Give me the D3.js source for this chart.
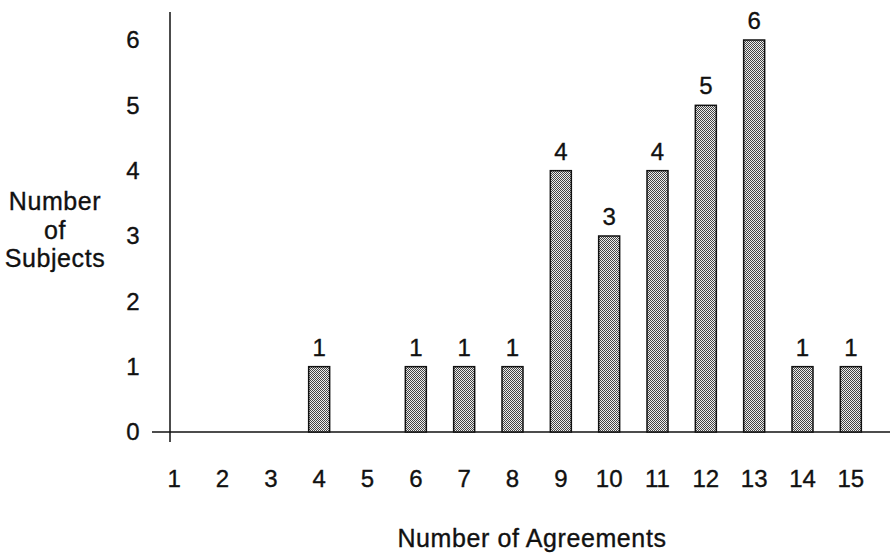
<!DOCTYPE html>
<html>
<head>
<meta charset="utf-8">
<script src="https://cdn.jsdelivr.net/npm/d3@7"></script>
<style>
  html, body { margin: 0; padding: 0; background: #fff; }
  svg { display: block; }
  text { font-family: "Liberation Sans", Arial, Helvetica, sans-serif; fill: #111; stroke: #111; stroke-width: 0.35px; }
</style>
</head>
<body>
<svg id="chart" width="890" height="555"></svg>
<script>
// ---- data ----
const categories = [1, 2, 3, 4, 5, 6, 7, 8, 9, 10, 11, 12, 13, 14, 15];
const subjects   = [0, 0, 0, 1, 0, 1, 1, 1, 4, 3, 4, 5, 6, 1, 1];
const yTicks     = [0, 1, 2, 3, 4, 5, 6];
const yTitle     = ["Number", "of", "Subjects"];
const xTitle     = "Number of Agreements";

const data = categories.map((c, i) => ({ cat: c, value: subjects[i] }));

const svg = d3.select("#chart");

// stipple pattern for bars
const defs = svg.append("defs");
const pat = defs.append("pattern")
  .attr("id", "stipple").attr("patternUnits", "userSpaceOnUse")
  .attr("width", 2).attr("height", 2);
pat.append("rect").attr("width", 2).attr("height", 2).attr("fill", "#eeeeee");
pat.append("rect").attr("x", 0).attr("y", 0).attr("width", 1).attr("height", 1).attr("fill", "#444");
pat.append("rect").attr("x", 1).attr("y", 1).attr("width", 1).attr("height", 1).attr("fill", "#444");

// scales
const x = d3.scalePoint().domain(categories).range([150, 875]).padding(0.5);
const y = d3.scaleLinear().domain([0, 6]).range([432, 40]);
const barW = 21;

// axes lines
svg.append("line")
  .attr("x1", 170).attr("x2", 170).attr("y1", 12).attr("y2", 442)
  .attr("stroke", "#111").attr("stroke-width", 1.5);
svg.append("line")
  .attr("x1", 152).attr("x2", 890).attr("y1", y(0)).attr("y2", y(0))
  .attr("stroke", "#111").attr("stroke-width", 1.5);

// y tick labels
svg.append("g").selectAll("text").data(yTicks).join("text")
  .attr("x", 133).attr("y", d => y(d)).attr("dy", "0.35em")
  .attr("text-anchor", "middle").attr("font-size", 24)
  .text(d => d);

// y title
svg.append("g").selectAll("text").data(yTitle).join("text")
  .attr("x", 55).attr("y", (d, i) => 210 + i * 28.5)
  .attr("text-anchor", "middle").attr("font-size", 25)
  .attr("letter-spacing", 0.6)
  .text(d => d);

// bars
svg.append("g").selectAll("rect").data(data.filter(d => d.value > 0)).join("rect")
  .attr("x", d => x(d.cat) - barW / 2)
  .attr("y", d => y(d.value))
  .attr("width", barW)
  .attr("height", d => y(0) - y(d.value))
  .attr("fill", "url(#stipple)")
  .attr("stroke", "#111").attr("stroke-width", 1.5);

// bar value labels
svg.append("g").selectAll("text").data(data.filter(d => d.value > 0)).join("text")
  .attr("x", d => x(d.cat))
  .attr("y", d => y(d.value) - 11)
  .attr("text-anchor", "middle").attr("font-size", 24)
  .text(d => d.value);

// x category labels
svg.append("g").selectAll("text").data(categories).join("text")
  .attr("x", d => x(d)).attr("y", 487)
  .attr("text-anchor", "middle").attr("font-size", 24)
  .text(d => d);

// x title
svg.append("text")
  .attr("x", 532).attr("y", 547)
  .attr("text-anchor", "middle").attr("font-size", 25)
  .attr("letter-spacing", 0.6)
  .text(xTitle);
</script>
</body>
</html>
